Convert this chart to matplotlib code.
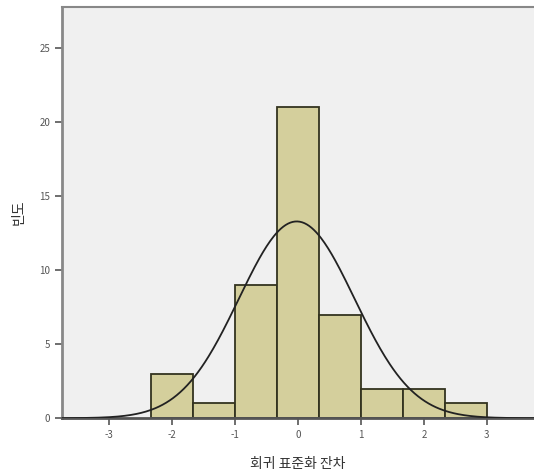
import numpy as np
import matplotlib.pyplot as plt

plt.rcParams['font.family'] = ['Noto Sans CJK KR', 'DejaVu Sans']
plt.rcParams['axes.unicode_minus'] = False

# histogram of standardized residuals
bin_edges = [-2.33, -1.667, -1.0, -0.333, 0.333, 1.0, 1.667, 2.333, 3.0]
counts = [3, 1, 9, 21, 7, 2, 2, 1]
resid_mean = -0.02
resid_std = 0.92
x_ticks = [-3, -2, -1, 0, 1, 2, 3]
y_ticks = [0, 5, 10, 15, 20, 25]

fig = plt.figure(figsize=(5.34, 4.72), dpi=100)
ax = fig.add_axes([0.116, 0.114, 0.884, 0.872])
ax.set_facecolor('#f0f0f0')

lefts = np.array(bin_edges[:-1])
widths = np.diff(bin_edges)
ax.bar(lefts, counts, width=widths, align='edge', color='#d4cf9c',
       edgecolor='#33331f', linewidth=1.3, zorder=2)

# normal curve scaled to the histogram
n = sum(counts)
bw = widths.mean()
xs = np.linspace(-3.75, 3.75, 400)
ys = n * bw * np.exp(-0.5 * ((xs - resid_mean) / resid_std) ** 2) / (resid_std * np.sqrt(2 * np.pi))
ax.plot(xs, ys, color='#222222', linewidth=1.3, zorder=3)

ax.set_xlim(-3.75, 3.75)
ax.set_ylim(0, 27.8)
ax.set_xticks(x_ticks)
ax.set_yticks(y_ticks)
ax.tick_params(direction='out', length=5, width=1.2, colors='#555555', labelsize=7)

ax.spines['right'].set_visible(False)
ax.spines['left'].set_color('#888888')
ax.spines['left'].set_linewidth(2)
ax.spines['top'].set_color('#888888')
ax.spines['top'].set_linewidth(1.5)
ax.spines['bottom'].set_color('#555555')
ax.spines['bottom'].set_linewidth(2)

ax.set_xlabel('회귀 표준화 잔차', fontsize=10, color='#333333', labelpad=12)
ax.set_ylabel('빈도', fontsize=10, color='#333333', labelpad=10)

fig.savefig('out.png', dpi=100)
